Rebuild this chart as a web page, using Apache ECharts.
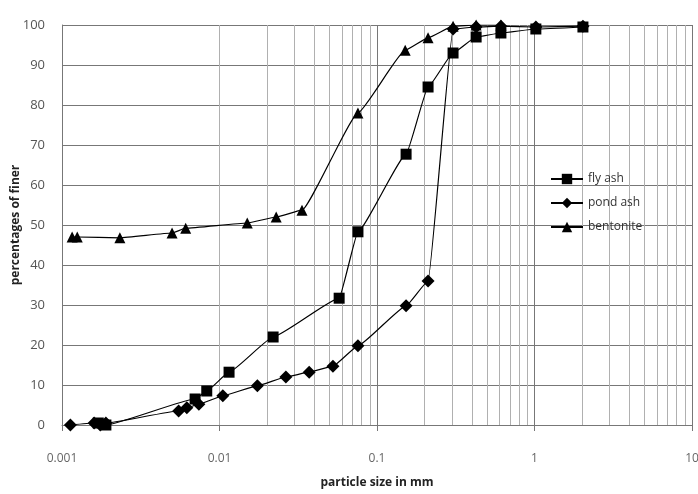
<!DOCTYPE html>
<html>
<head>
<meta charset="utf-8">
<script src="https://cdn.jsdelivr.net/npm/echarts@6/dist/echarts.min.js"></script>
<style>html,body{margin:0;padding:0;background:#fff}#c{width:698px;height:494px}</style>
</head>
<body>
<div id="c"></div>
<script>
var seriesNames = ['fly ash', 'pond ash', 'bentonite'];
var flyAshX = [0.0017, 0.0019, 0.0070, 0.0083, 0.0115, 0.0219, 0.0575, 0.0757, 0.153, 0.211, 0.304, 0.426, 0.612, 1.02, 2.03];
var flyAshY = [0.5, 0, 6.5, 8.5, 13.2, 22, 31.7, 48.3, 67.7, 84.5, 93, 97, 98, 99, 99.5];
var pondAshX = [0.00113, 0.00160, 0.00175, 0.0019, 0.0055, 0.0062, 0.0074, 0.0105, 0.0174, 0.0264, 0.0371, 0.0525, 0.0757, 0.153, 0.211, 0.304, 0.426, 0.612, 1.02, 2.03];
var pondAshY = [0, 0.5, 0, 0.5, 3.5, 4.3, 5.2, 7.3, 9.8, 12, 13.2, 14.7, 19.8, 29.8, 36, 99, 99.5, 99.7, 99.5, 99.7];
var bentoniteX = [0.00116, 0.00125, 0.00233, 0.0050, 0.0061, 0.0150, 0.0229, 0.0334, 0.0757, 0.151, 0.211, 0.304, 0.426, 0.612];
var bentoniteY = [47, 47, 46.8, 48, 49.2, 50.5, 52, 53.7, 78, 93.7, 96.8, 99.7, 100, 100];
var xTickLabels = ['0.001', '0.01', '0.1', '1', '10'];
var minorMultipliers = [2, 3, 4, 5, 6, 7, 8, 9];
var decades = [0.001, 0.01, 0.1, 1];

function pairs(xs, ys) { return xs.map(function (x, i) { return [x, ys[i]]; }); }
var minorLines = [];
decades.forEach(function (d) { minorMultipliers.forEach(function (m) { minorLines.push({ xAxis: +(d * m).toPrecision(3) }); }); });

var chart = echarts.init(document.getElementById('c'), null, { renderer: 'canvas' });
var font = 'Open Sans, Liberation Sans, sans-serif';
var common = { type: 'line', smooth: 0.12, smoothMonotone: 'x', color: '#000', lineStyle: { color: '#000', width: 1.2 }, itemStyle: { color: '#000' }, z: 5 };
chart.setOption({
  animation: false,
  backgroundColor: '#fff',
  grid: { left: 62, right: 6, top: 25, bottom: 69, containLabel: false, outerBoundsMode: 'none' },
  legend: {
    orient: 'vertical', left: 545, top: 168, itemWidth: 32, itemHeight: 13, itemGap: 12,
    textStyle: { fontFamily: font, fontSize: 12, color: '#333' },
    data: seriesNames
  },
  xAxis: {
    type: 'log', logBase: 10, min: 0.001, max: 10,
    name: 'particle size in mm', nameLocation: 'middle', nameGap: 52,
    nameTextStyle: { fontFamily: font, fontSize: 12, fontWeight: 'bold', color: '#222' },
    axisLine: { show: true, lineStyle: { color: '#777' } },
    axisTick: { show: true, length: 6, lineStyle: { color: '#777' } },
    axisLabel: { fontFamily: font, fontSize: 12, color: '#666', margin: 28,
      formatter: function (v) { var i = Math.round(Math.log10(v) + 3); return xTickLabels[i] !== undefined ? xTickLabels[i] : ''; } },
    splitLine: { show: true, lineStyle: { color: '#777', width: 1 } }
  },
  yAxis: {
    type: 'value', min: 0, max: 100, interval: 10,
    name: 'percentages of finer', nameLocation: 'middle', nameGap: 40, nameRotate: 90, nameMoveOverlap: false,
    nameTextStyle: { fontFamily: font, fontSize: 12, fontWeight: 'bold', color: '#222' },
    axisLine: { show: true, lineStyle: { color: '#777' } },
    axisTick: { show: false },
    axisLabel: { fontFamily: font, fontSize: 13, color: '#555', margin: 17 },
    splitLine: { show: true, lineStyle: { color: '#777', width: 1 } }
  },
  series: [
    Object.assign({}, common, { name: seriesNames[0], symbol: 'rect', symbolSize: 11, data: pairs(flyAshX, flyAshY),
      markLine: { silent: true, symbol: 'none', label: { show: false }, animation: false,
        lineStyle: { color: '#b0b0b0', type: 'solid', width: 1 }, data: minorLines, z: 1 } }),
    Object.assign({}, common, { name: seriesNames[1], symbol: 'diamond', symbolSize: 13, data: pairs(pondAshX, pondAshY) }),
    Object.assign({}, common, { name: seriesNames[2], symbol: 'triangle', symbolSize: 11, data: pairs(bentoniteX, bentoniteY) })
  ]
});
</script>
</body>
</html>
